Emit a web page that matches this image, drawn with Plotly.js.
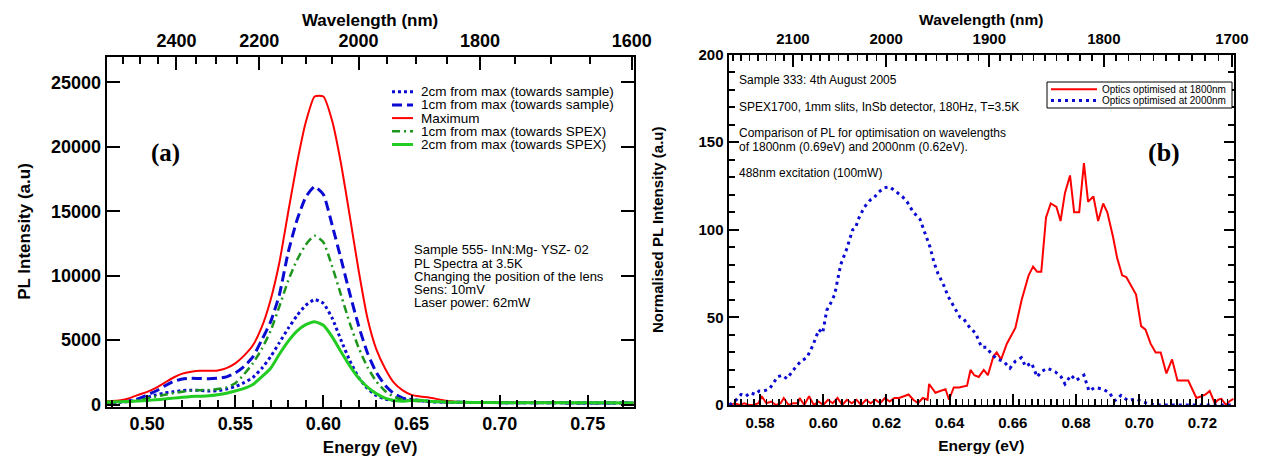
<!DOCTYPE html>
<html><head><meta charset="utf-8">
<script src="https://cdn.plot.ly/plotly-3.0.1.min.js"></script>
<style>html,body{margin:0;padding:0;background:#fff}#chart{width:1263px;height:457px}</style>
</head><body><div id="chart"></div>
<script>
const W = 1263, H = 457, HC = 1239.84;
const FONT = 'Liberation Sans, Arial, Helvetica, sans-serif';
const SERIF = 'Liberation Serif, Times New Roman, serif';
const px = x => x / W, py = y => 1 - y / H;

// ---------- Panel (a) data ----------
const energyA = [0.477,0.485,0.490,0.495,0.500,0.505,0.510,0.515,0.520,0.525,0.530,0.535,0.540,0.545,0.550,0.555,0.560,0.565,0.570,0.575,0.580,0.585,0.590,0.595,0.600,0.605,0.610,0.615,0.620,0.625,0.630,0.635,0.640,0.645,0.650,0.655,0.660,0.670,0.680,0.690,0.700,0.720,0.740,0.760,0.776];
const sample2cm = [130,180,250,380,560,750,900,1000,1080,1120,1100,1050,1080,1200,1400,1700,2100,2800,3700,4800,5900,6900,7700,8150,7850,6700,5000,3400,2100,1250,700,420,320,380,420,300,220,180,170,160,150,140,130,130,120];
const sample1cm = [180,220,300,450,750,1050,1450,1800,1980,2050,2020,2000,2040,2150,2450,2950,3700,5000,6400,8500,11800,14300,16100,16900,16300,13900,11300,8600,6100,4000,2500,1500,850,500,350,300,250,200,170,160,150,140,130,130,120];
const maximumA = [250,330,500,750,980,1300,1700,2100,2400,2550,2630,2620,2650,2830,3200,3800,4600,6000,8100,11000,14900,18700,21900,23900,23900,22000,18700,14600,10400,6700,4300,2800,1700,1100,750,620,540,300,180,170,150,140,130,120,120];
const spex1cm = [150,180,220,320,480,620,760,890,1000,1080,1120,1130,1200,1330,1650,2350,3200,4300,5700,7600,9600,11200,12400,13100,12600,10700,8500,6300,4400,2900,1800,1050,600,380,300,260,230,190,170,160,150,140,130,130,120];
const spex2cm = [200,220,240,280,320,370,430,500,570,620,650,680,760,880,1050,1250,1550,2150,2800,3900,4900,5700,6200,6430,6150,5250,4100,3000,2050,1350,850,500,320,260,320,330,260,200,170,160,150,150,140,140,130];
const namesA = ['2cm from max (towards sample)','1cm from max (towards sample)','Maximum','1cm from max (towards SPEX)','2cm from max (towards SPEX)'];
const seriesA = [sample2cm, sample1cm, maximumA, spex1cm, spex2cm];
const wlMajorA = [2400,2200,2000,1800,1600];
const wlMinorA = [2550,2500,2450,2350,2300,2250,2150,2100,2050,1950,1900,1850,1750,1700,1650];
const infoA = ['Sample 555- InN:Mg- YSZ- 02','PL Spectra at 3.5K','Changing the position of the lens','Sens: 10mV','Laser power: 62mW'];

// ---------- Panel (b) data ----------
const energy1800 = [0.5705,0.572,0.5735,0.575,0.5765,0.578,0.5795,0.5805,0.582,0.5835,0.585,0.5865,0.5875,0.589,0.5905,0.592,0.5925,0.594,0.5955,0.597,0.5985,0.600,0.6015,0.603,0.6045,0.606,0.6075,0.609,0.6105,0.612,0.6135,0.615,0.6165,0.618,0.6195,0.621,0.6225,0.624,0.6255,0.627,0.6285,0.630,0.6315,0.633,0.6335,0.6355,0.637,0.6387,0.6398,0.6413,0.643,0.6455,0.6466,0.6478,0.6492,0.6508,0.6521,0.6539,0.6549,0.6563,0.6581,0.6595,0.6608,0.6628,0.665,0.6664,0.6677,0.669,0.6705,0.672,0.6738,0.6751,0.6765,0.6781,0.6794,0.681,0.6825,0.6838,0.6855,0.687,0.6886,0.6899,0.6917,0.693,0.6946,0.6959,0.6975,0.699,0.7006,0.702,0.7036,0.7052,0.7068,0.7086,0.7104,0.7121,0.7139,0.7155,0.7168,0.7181,0.7197,0.721,0.7223,0.7239,0.725,0.726,0.7275,0.7285,0.7298];
const optics1800 = [0,1,0,1,0,0,1,5,1,2,0,1,4,0,1,1,4,0,5,0,2,0,3,1,4,0,3,1,3,0,3,1,3,1,4,2,4,4,5,6,3,1,4,3,12,7,8,9,3,10,10,11,20,17,16,20,17,28,30,26,35,40,44,60,74,79,76,76,107,115,113,105,121,131,110,110,138,116,119,105,115,110,96,84,74,73,68,63,45,43,35,30,30,18,26,14,14,14,9,4,5,6,8,1,3,3.5,0,2,3.5];
const energy2000 = [0.5703,0.5725,0.574,0.5755,0.5769,0.5785,0.5797,0.5812,0.5828,0.5841,0.5854,0.587,0.5885,0.5897,0.591,0.5929,0.5948,0.5967,0.5986,0.5998,0.6011,0.6023,0.6036,0.6055,0.6074,0.6093,0.6102,0.6111,0.613,0.6149,0.616,0.6172,0.6193,0.621,0.6231,0.625,0.6265,0.6285,0.6306,0.632,0.6338,0.6351,0.6363,0.6382,0.6395,0.6414,0.6433,0.6445,0.6464,0.6482,0.6501,0.6516,0.6533,0.6552,0.657,0.6591,0.6608,0.6627,0.664,0.6659,0.6677,0.669,0.6709,0.6734,0.6753,0.6765,0.6784,0.680,0.6825,0.6841,0.686,0.6886,0.6905,0.6923,0.6942,0.6964,0.6989,0.7015,0.705,0.710,0.715,0.720,0.725,0.730];
const optics2000 = [0,3,6,5,7,6,8,8,9,12,16,17,15,18,21,25,27,34,43,41,54,58,63,80,89,100,101,106,113,117,118,121,124,124.5,121.5,119,116,110,106,99,90,81,75,68,62,56,50,49,44,41,33,33,29,26,25,21,25,27,22,24,16,19,21,19,16,12,17,14,17,8,10,9,7,2.5,5.5,2.5,3.5,1.5,0,0,0,0,0,0];
const namesB = ['Optics optimised at 1800nm','Optics optimised at 2000nm'];
const wlMajorB = [2100,2000,1900,1800,1700];
const infoB = ['Sample 333: 4th August 2005','SPEX1700, 1mm slits, InSb detector, 180Hz, T=3.5K','Comparison of PL for optimisation on wavelengths','of 1800nm (0.69eV) and 2000nm (0.62eV).','488nm excitation (100mW)'];

// ---------- styles ----------
const stylesA = [
  {color:'#0a0ad2', width:3, dash:'3px,3px'},
  {color:'#0a0ad2', width:3, dash:'10px,5px'},
  {color:'#ff0000', width:2, dash:'solid'},
  {color:'#1e961e', width:2.5, dash:'8px,4px,2px,4px'},
  {color:'#22cc22', width:3, dash:'solid'}
];
const stylesB = [
  {color:'#ff0000', width:2, dash:'solid'},
  {color:'#0a0ad2', width:3, dash:'3px,4px'}
];

const traces = [];
seriesA.forEach((s, i) => traces.push({
  x: energyA, y: s, type:'scatter', mode:'lines', name: namesA[i],
  line: Object.assign({shape:'spline', smoothing:0.5}, stylesA[i]),
  xaxis:'x', yaxis:'y', showlegend:false, hoverinfo:'skip'
}));
traces.push({x:[], y:[], xaxis:'x2', yaxis:'y', showlegend:false, hoverinfo:'skip', type:'scatter'});
traces.push({x: energy1800, y: optics1800, type:'scatter', mode:'lines', name: namesB[0],
  line: stylesB[0], xaxis:'x3', yaxis:'y2', showlegend:false, hoverinfo:'skip'});
traces.push({x: energy2000, y: optics2000, type:'scatter', mode:'lines', name: namesB[1],
  line: stylesB[1], xaxis:'x3', yaxis:'y2', showlegend:false, hoverinfo:'skip'});
traces.push({x:[], y:[], xaxis:'x4', yaxis:'y2', showlegend:false, hoverinfo:'skip', type:'scatter'});

const bold = (size) => ({family: FONT, size: size, color:'#000', weight:'bold'});
const common = {showline:true, linewidth:2, linecolor:'#000', ticks:'inside', tickcolor:'#000',
  showgrid:false, zeroline:false, fixedrange:true};

const rangeA = [0.477, 0.776];
const rangeB = [0.57, 0.73];
const wlMinorB = [];
for (let l = 2170; l >= 1700; l -= 10) if (l % 100 !== 0) wlMinorB.push(l);

const layout = {
  width: W, height: H, margin:{l:0, r:0, t:0, b:0},
  paper_bgcolor:'#fff', plot_bgcolor:'#fff', showlegend:false,
  font:{family: FONT, color:'#000'},
  xaxis: Object.assign({}, common, {
    domain:[px(106.6), px(633.6)], range: rangeA, anchor:'y',
    tick0:0, dtick:0.05, tickformat:'.2f', ticklen:12, tickwidth:2,
    tickfont: bold(18),
    minor:{tick0:0, dtick:0.01, ticks:'inside', ticklen:7, tickwidth:2, tickcolor:'#000'},
    title:{text:'Energy (eV)', font: bold(17), standoff:11}
  }),
  xaxis2: Object.assign({}, common, {
    overlaying:'x', side:'top', anchor:'y', range: rangeA,
    tickmode:'array', tickvals: wlMajorA.map(l => HC / l), ticktext: wlMajorA.map(String),
    ticklen:13, tickwidth:2, tickfont: bold(18),
    minor:{tickmode:'array', tickvals: wlMinorA.map(l => HC / l), ticks:'inside', ticklen:7, tickwidth:2, tickcolor:'#000'},
    title:{text:'Wavelength (nm)', font: bold(17), standoff:0}
  }),
  yaxis: Object.assign({}, common, {
    domain:[py(406.5), py(56.5)], range:[-150, 27000], anchor:'x', mirror:'ticks',
    tick0:0, dtick:5000, tickformat:'d', ticklen:13, tickwidth:2, tickfont: bold(18),
    title:{text:'PL Intensity (a.u)', font: bold(17), standoff:16}
  }),
  xaxis3: Object.assign({}, common, {
    domain:[px(728.5), px(1234)], range: rangeB, anchor:'y2',
    tick0:0, dtick:0.02, tickformat:'.2f', ticklen:11, tickwidth:2, tickfont: bold(15),
    ticklabelstandoff:3,
    minor:{tick0:0, dtick:0.002, ticks:'inside', ticklen:6, tickwidth:1.5, tickcolor:'#000'},
    title:{text:'Energy (eV)', font: bold(15.5), standoff:10}
  }),
  xaxis4: Object.assign({}, common, {
    overlaying:'x3', side:'top', anchor:'y2', range: rangeB,
    tickmode:'array', tickvals: wlMajorB.map(l => HC / l), ticktext: wlMajorB.map(String),
    ticklen:12, tickwidth:2, tickfont: bold(15), ticklabelstandoff:3,
    minor:{tickmode:'array', tickvals: wlMinorB.map(l => HC / l), ticks:'inside', ticklen:6, tickwidth:1.5, tickcolor:'#000'},
    title:{text:'Wavelength (nm)', font: bold(15.5), standoff:0}
  }),
  yaxis2: Object.assign({}, common, {
    domain:[py(405), py(54.5)], range:[0, 200], anchor:'x3', mirror:'ticks',
    tick0:0, dtick:50, ticklen:10, tickwidth:2, tickfont: bold(15),
    minor:{tick0:0, dtick:10, ticks:'inside', ticklen:6, tickwidth:2, tickcolor:'#000'},
    title:{text:'Normalised PL Intensity (a.u)', font: bold(15), standoff:31}
  }),
  shapes: [], annotations: []
};

// legend (a)
namesA.forEach((n, i) => {
  const yy = 91.7 + i * 13.2;
  layout.shapes.push({type:'line', xref:'paper', yref:'paper', x0:px(392), x1:px(413), y0:py(yy), y1:py(yy),
    line:{color: stylesA[i].color, width: stylesA[i].width, dash: stylesA[i].dash}});
  layout.annotations.push({xref:'paper', yref:'paper', x:px(419), y:py(yy), xanchor:'left', yanchor:'middle',
    text:n, showarrow:false, font:{family:FONT, size:13.5, color:'#000'}});
});
infoA.forEach((t, i) => layout.annotations.push({xref:'paper', yref:'paper', x:px(412), y:py(250 + i * 13.2),
  xanchor:'left', yanchor:'middle', text:t, showarrow:false, font:{family:FONT, size:13, color:'#000'}}));
layout.annotations.push({xref:'paper', yref:'paper', x:px(165), y:py(153), xanchor:'center', yanchor:'middle',
  text:'(a)', showarrow:false, font:{family:SERIF, size:25, color:'#000', weight:'bold'}});

// legend (b)
layout.shapes.push({type:'rect', xref:'paper', yref:'paper', x0:px(1047), x1:px(1232), y0:py(82), y1:py(108),
  line:{color:'#000', width:1}, fillcolor:'#fff', layer:'above'});
namesB.forEach((n, i) => {
  const yy = 89.3 + i * 11.2;
  layout.shapes.push({type:'line', xref:'paper', yref:'paper', x0:px(1051), x1:px(1097), y0:py(yy), y1:py(yy),
    line:{color: stylesB[i].color, width: stylesB[i].width, dash: stylesB[i].dash}, layer:'above'});
  layout.annotations.push({xref:'paper', yref:'paper', x:px(1228), y:py(yy), xanchor:'right', yanchor:'middle',
    text:n, showarrow:false, font:{family:FONT, size:10, color:'#000'}});
});
const infoBy = [80, 107, 132.7, 146.7, 173.3];
infoB.forEach((t, i) => layout.annotations.push({xref:'paper', yref:'paper', x:px(737), y:py(infoBy[i]),
  xanchor:'left', yanchor:'middle', text:t, showarrow:false, font:{family:FONT, size:12, color:'#000'}}));
layout.annotations.push({xref:'paper', yref:'paper', x:px(1164), y:py(152), xanchor:'center', yanchor:'middle',
  text:'(b)', showarrow:false, font:{family:SERIF, size:26, color:'#000', weight:'bold'}});

Plotly.newPlot('chart', traces, layout, {displayModeBar:false, staticPlot:true});
</script>
</body></html>
